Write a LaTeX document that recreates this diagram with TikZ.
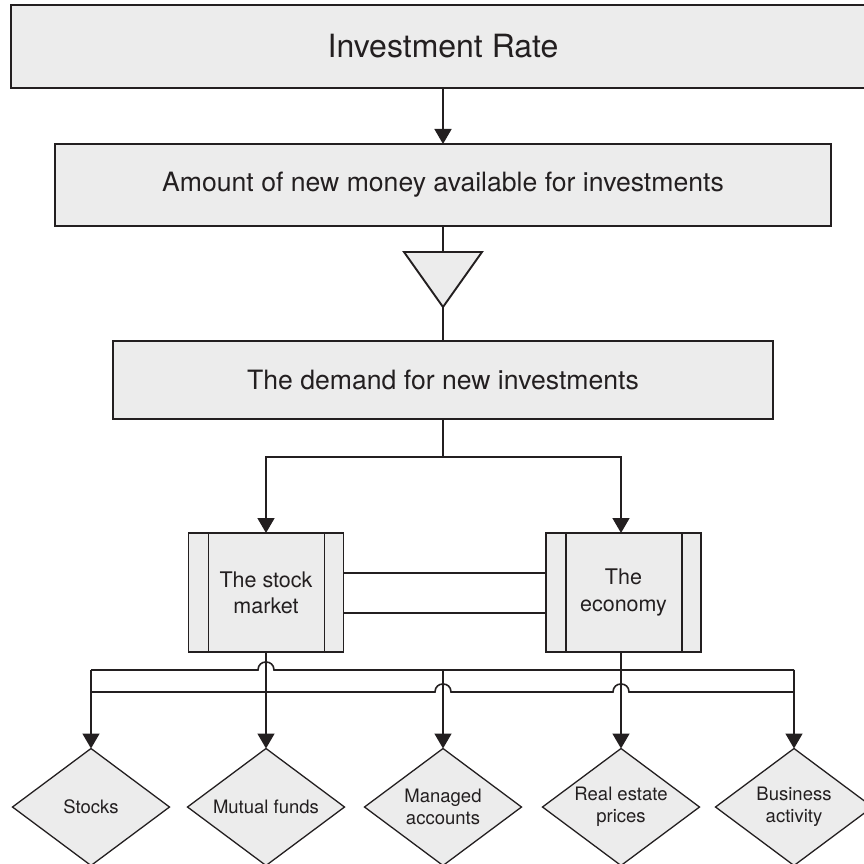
\documentclass[tikz,border=0pt]{standalone}
\usepackage{fontspec}
\setmainfont{TeX Gyre Heros}
\usetikzlibrary{shapes.geometric,arrows.meta,calc}
\definecolor{ink}{HTML}{231F20}
\definecolor{boxfill}{HTML}{ECECEC}
\begin{document}
\begin{tikzpicture}[x=1pt,y=-1pt,
  box/.style={draw=ink,fill=boxfill,line width=1.9pt,inner sep=0pt,outer sep=0pt,text=ink,align=center},
  proc/.style={box,minimum width=155pt,minimum height=119pt,font=\fontsize{21.5}{26}\selectfont},
  choice/.style={draw=ink,fill=boxfill,line width=1.3pt,diamond,aspect=1.345,minimum width=157pt,minimum height=117pt,inner sep=0pt,outer sep=0pt,text=ink,align=center,font=\fontsize{18.5}{22.5}\selectfont},
  conn/.style={draw=ink,line width=1.6pt},
  arr/.style={conn,-{Triangle[length=15pt,width=17pt]}}]
\useasboundingbox (0,0) rectangle (863,864);
% boxes
\node[box,line width=2.4pt,minimum width=864pt,minimum height=83pt,font=\fontsize{32}{38}\selectfont] (rate) at (443,46.5) {Investment Rate};
\node[box,minimum width=776pt,minimum height=82pt,font=\fontsize{26.6}{32}\selectfont] (amount) at (443,185) {Amount of new money available for investments};
\node[box,minimum width=660pt,minimum height=78pt,font=\fontsize{26.6}{32}\selectfont] (demand) at (443,380) {The demand for new investments};
% triangle
\path[draw=ink,fill=boxfill,line width=1.9pt,line join=miter] (404,252) -- (482,252) -- (443,307) -- cycle;
\coordinate (tritop) at (443,252);
\coordinate (triapex) at (443,307);
% process boxes
\node[proc] (stock) at (266,592.5) {The stock\\market};
\node[proc] (economy) at (623.5,592.5) {The\\economy};
\foreach \n in {stock,economy}{
  \draw[draw=ink,line width=1.9pt] ($(\n.north west)+(20,0)$) -- ($(\n.south west)+(20,0)$);
  \draw[draw=ink,line width=1.9pt] ($(\n.north east)+(-19,0)$) -- ($(\n.south east)+(-19,0)$);
}
% decisions
\node[choice] (stocks) at (91,807) {Stocks};
\node[choice] (mutual) at (266,807) {Mutual funds};
\node[choice] (managed) at (443,807) {Managed\\accounts};
\node[choice] (real) at (621,807) {Real estate\\prices};
\node[choice] (business) at (794,807) {Business\\activity};
% connectors
\draw[arr] (rate.south) -- (amount.north);
\draw[conn] (amount.south) -- (tritop);
\draw[conn] (triapex) -- (demand.north);
\coordinate (bus) at (443,457);
\draw[conn] (demand.south) -- (bus);
\draw[arr] (bus) -| (stock.north);
\draw[arr] (bus) -| (economy.north -| real.north);
\draw[conn] ($(stock.east)+(0,-19.5)$) -- ($(economy.west)+(0,-19.5)$);
\draw[conn] ($(stock.east)+(0,20.5)$) -- ($(economy.west)+(0,20.5)$);
% buses with line jumps
\coordinate (ubl) at (stocks.north |- 0,670);
\coordinate (ubr) at (business.north |- 0,670);
\coordinate (lbl) at (stocks.north |- 0,692);
\coordinate (lbr) at (business.north |- 0,692);
\draw[conn] (ubl) -- (258,670) .. controls (258,659.3) and (274,659.3) .. (274,670) -- (ubr);
\draw[conn] (lbl) -- (435,692) .. controls (435,681.3) and (451,681.3) .. (451,692)
  -- (613,692) .. controls (613,681.3) and (629,681.3) .. (629,692) -- (lbr);
\draw[arr] (ubl) -- (stocks.north);
\draw[arr] (stock.south -| mutual.north) -- (mutual.north);
\draw[arr] (managed.north |- ubl) -- (managed.north);
\draw[arr] (economy.south -| real.north) -- (real.north);
\draw[arr] (ubr) -- (business.north);
\end{tikzpicture}
\end{document}
